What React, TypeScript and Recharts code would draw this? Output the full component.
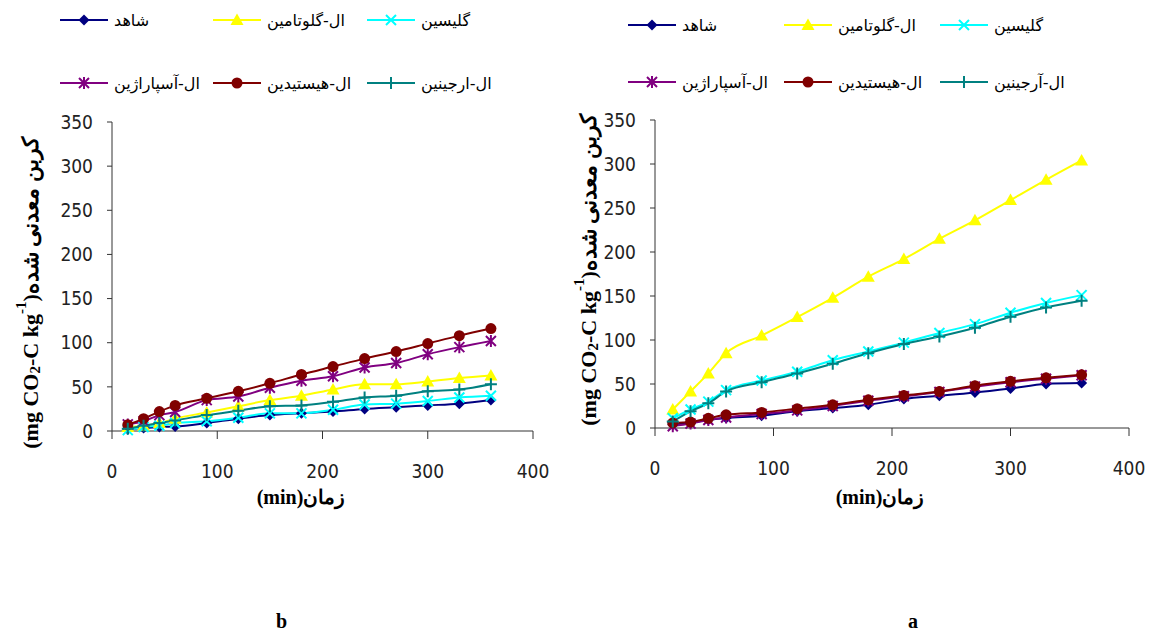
import React from "react";
import { LineChart, Line, XAxis, YAxis, Legend } from "recharts";

const times = [15, 30, 45, 60, 90, 120, 150, 180, 210, 240, 270, 300, 330, 360];

// chart b (left)
const controlB = [2, 3.4, 4.5, 5, 9, 14, 18, 20, 22, 25, 27, 29, 31, 35];
const glutamineB = [4.5, 6, 9, 14, 21, 28, 35, 40, 47, 53, 53, 56, 60, 63];
const glycineB = [1, 4.5, 6, 9, 11, 15, 20, 20, 24, 30, 31, 34, 38, 40];
const asparagineB = [7.5, 11, 18, 21.5, 35, 39, 49, 57, 62, 72, 77, 87, 95, 102];
const histidineB = [7, 14, 22, 29, 37, 45, 54, 64, 73, 82, 90, 99, 108, 116];
const arginineB = [2.6, 6, 9, 12, 18, 23, 28, 29, 33, 38, 40, 45, 47, 53];

// chart a (right)
const controlA = [3.8, 5.7, 9.4, 11.3, 14, 19, 22.6, 26.4, 33, 36.6, 40.4, 45, 50, 51];
const glutamineA = [21, 41.5, 62, 85, 105, 126, 148, 172, 192, 215, 236, 259, 282, 304];
const glycineA = [11, 21, 30, 43, 54, 64, 77, 87, 97, 108, 118, 131, 142, 151];
const asparagineA = [2, 5, 9, 12, 16, 20, 25, 31, 36, 41, 47, 52, 56, 60];
const histidineA = [5.7, 6.8, 11, 15, 17.7, 22, 26.4, 32, 37, 41.5, 48, 53, 57, 60.4];
const arginineA = [7.5, 19, 28, 41.5, 52, 62, 73, 85, 95.5, 104, 114, 126.5, 137, 144.6];

const xTicks = [0, 100, 200, 300, 400];
const yTicks = [0, 50, 100, 150, 200, 250, 300, 350];

const namesB = ["شاهد", "ال-گلوتامین", "گلیسین", "ال-آسپاراژین", "ال-هیستیدین", "ال-ارجینین"];
const namesA = ["شاهد", "ال-گلوتامین", "گلیسین", "ال-آسپاراژین", "ال-هیستیدین", "ال-آرجینین"];

const SERIES = [
  { key: "control", color: "#000080", shape: "diamond" },
  { key: "glutamine", color: "#FFFF00", shape: "triangle" },
  { key: "glycine", color: "#00FFFF", shape: "x" },
  { key: "asparagine", color: "#800080", shape: "star" },
  { key: "histidine", color: "#800000", shape: "circle" },
  { key: "arginine", color: "#008080", shape: "plus" },
];

const build = (arrs: number[][]) =>
  times.map((t, i) => ({
    t,
    control: arrs[0][i],
    glutamine: arrs[1][i],
    glycine: arrs[2][i],
    asparagine: arrs[3][i],
    histidine: arrs[4][i],
    arginine: arrs[5][i],
  }));

const dataB = build([controlB, glutamineB, glycineB, asparagineB, histidineB, arginineB]);
const dataA = build([controlA, glutamineA, glycineA, asparagineA, histidineA, arginineA]);

const TICK_FONT = "'Liberation Sans Narrow', 'Arial Narrow', 'DejaVu Sans Condensed', sans-serif";
const SERIF = "'Liberation Serif', 'DejaVu Serif', serif";

function Marker({ shape, color, cx, cy }: { shape: string; color: string; cx: number; cy: number }) {
  switch (shape) {
    case "diamond":
      return <path d={`M${cx},${cy - 5.5}L${cx + 5.5},${cy}L${cx},${cy + 5.5}L${cx - 5.5},${cy}Z`} fill={color} />;
    case "triangle":
      return <path d={`M${cx},${cy - 6.5}L${cx + 6.5},${cy + 5}L${cx - 6.5},${cy + 5}Z`} fill={color} />;
    case "circle":
      return <circle cx={cx} cy={cy} r={5.5} fill={color} />;
    case "x":
      return (
        <path d={`M${cx - 5},${cy - 5}L${cx + 5},${cy + 5}M${cx - 5},${cy + 5}L${cx + 5},${cy - 5}`} stroke={color} strokeWidth={2} />
      );
    case "star":
      return (
        <path
          d={`M${cx - 5},${cy - 5}L${cx + 5},${cy + 5}M${cx - 5},${cy + 5}L${cx + 5},${cy - 5}M${cx},${cy - 6}L${cx},${cy + 6}`}
          stroke={color}
          strokeWidth={2}
        />
      );
    default:
      return (
        <path d={`M${cx - 6},${cy}L${cx + 6},${cy}M${cx},${cy - 6}L${cx},${cy + 6}`} stroke={color} strokeWidth={2} />
      );
  }
}

const dotFor = (shape: string, color: string) => (props: any) => (
  <g key={`d-${shape}-${props.index}`}>
    <Marker shape={shape} color={color} cx={props.cx} cy={props.cy} />
  </g>
);

const makeLegend = (cols: number[], rows: number[], names: string[]) => () => (
  <div style={{ position: "relative", width: "100%", height: 110 }}>
    {SERIES.map((s, i) => (
      <div
        key={s.key}
        style={{
          position: "absolute",
          left: cols[i % 3],
          top: rows[Math.floor(i / 3)] - 10,
          height: 20,
          display: "flex",
          alignItems: "center",
          whiteSpace: "nowrap",
        }}
      >
        <svg width={48} height={20} style={{ display: "block" }}>
          <line x1={0} y1={10} x2={48} y2={10} stroke={s.color} strokeWidth={2} />
          <Marker shape={s.shape} color={s.color} cx={24} cy={10} />
        </svg>
        <span style={{ marginLeft: 6, fontSize: 16, fontFamily: "'DejaVu Sans', sans-serif", color: "#000" }}>
          {names[i]}
        </span>
      </div>
    ))}
  </div>
);

const yLabel = (x: number, y: number) => () => (
  <text
    x={x}
    y={y}
    transform={`rotate(-90 ${x} ${y})`}
    textAnchor="middle"
    dominantBaseline="central"
    fontFamily={SERIF}
    fontWeight="bold"
    fontSize={22}
    fill="#000"
  >
    <tspan>(mg CO</tspan>
    <tspan fontSize={15} dy={5}>2</tspan>
    <tspan dy={-5}>-C kg</tspan>
    <tspan fontSize={15} dy={-9}>-1</tspan>
    <tspan dy={9}>)</tspan>
    <tspan>کربن معدنی شده</tspan>
  </text>
);

const xLabel = (x: number, y: number) => () => (
  <text x={x} y={y} textAnchor="middle" dominantBaseline="central" fontFamily={SERIF} fontWeight="bold" fontSize={20} fill="#000">
    (min)زمان
  </text>
);

type PanelProps = {
  data: any[];
  width: number;
  margin: { top: number; right: number; bottom: number; left: number };
  legendCols: number[];
  legendRows: number[];
  names: string[];
  yLab: [number, number];
  xLab: [number, number];
};

function Panel({ data, width, margin, legendCols, legendRows, names, yLab, xLab }: PanelProps) {
  return (
    <LineChart width={width} height={633} data={data} margin={margin}>
      <XAxis
        dataKey="t"
        type="number"
        domain={[0, 400]}
        ticks={xTicks}
        height={80}
        stroke="#333"
        tickSize={8}
        tickMargin={26}
        tick={{ fill: "#222", fontSize: 19, fontFamily: TICK_FONT }}
        label={{ content: xLabel(xLab[0], xLab[1]) }}
      />
      <YAxis
        type="number"
        domain={[0, 350]}
        ticks={yTicks}
        width={50}
        stroke="#333"
        tickSize={5}
        tickMargin={14}
        tick={{ fill: "#222", fontSize: 19, fontFamily: TICK_FONT }}
        label={{ content: yLabel(yLab[0], yLab[1]) }}
      />
      <Legend
        layout="horizontal"
        verticalAlign="middle"
        align="center"
        wrapperStyle={{ top: 0, left: 0, width: width, height: 110 }}
        content={makeLegend(legendCols, legendRows, names)}
      />
      {SERIES.map((s) => (
        <Line
          key={s.key}
          dataKey={s.key}
          type="monotone"
          stroke={s.color}
          strokeWidth={2}
          dot={dotFor(s.shape, s.color)}
          activeDot={false}
          isAnimationActive={false}
        />
      ))}
    </LineChart>
  );
}

export default function App() {
  return (
    <div style={{ position: "absolute", left: 0, top: 0, width: 1151, height: 633, background: "#fff" }}>
      <div style={{ position: "absolute", left: 0, top: 0 }}>
        <Panel
          data={dataB}
          width={555}
          margin={{ top: 122, right: 22, bottom: 122, left: 62 }}
          legendCols={[60, 213, 367]}
          legendRows={[20, 83]}
          names={namesB}
          yLab={[30, 293]}
          xLab={[301, 497]}
        />
      </div>
      <div style={{ position: "absolute", left: 555, top: 0 }}>
        <Panel
          data={dataA}
          width={596}
          margin={{ top: 120, right: 22, bottom: 125, left: 50 }}
          legendCols={[73, 229, 385]}
          legendRows={[25, 82]}
          names={namesA}
          yLab={[33, 270]}
          xLab={[325, 497]}
        />
      </div>
      <div style={{ position: "absolute", left: 276, top: 610, fontFamily: SERIF, fontWeight: "bold", fontSize: 20 }}>b</div>
      <div style={{ position: "absolute", left: 908, top: 610, fontFamily: SERIF, fontWeight: "bold", fontSize: 20 }}>a</div>
    </div>
  );
}
